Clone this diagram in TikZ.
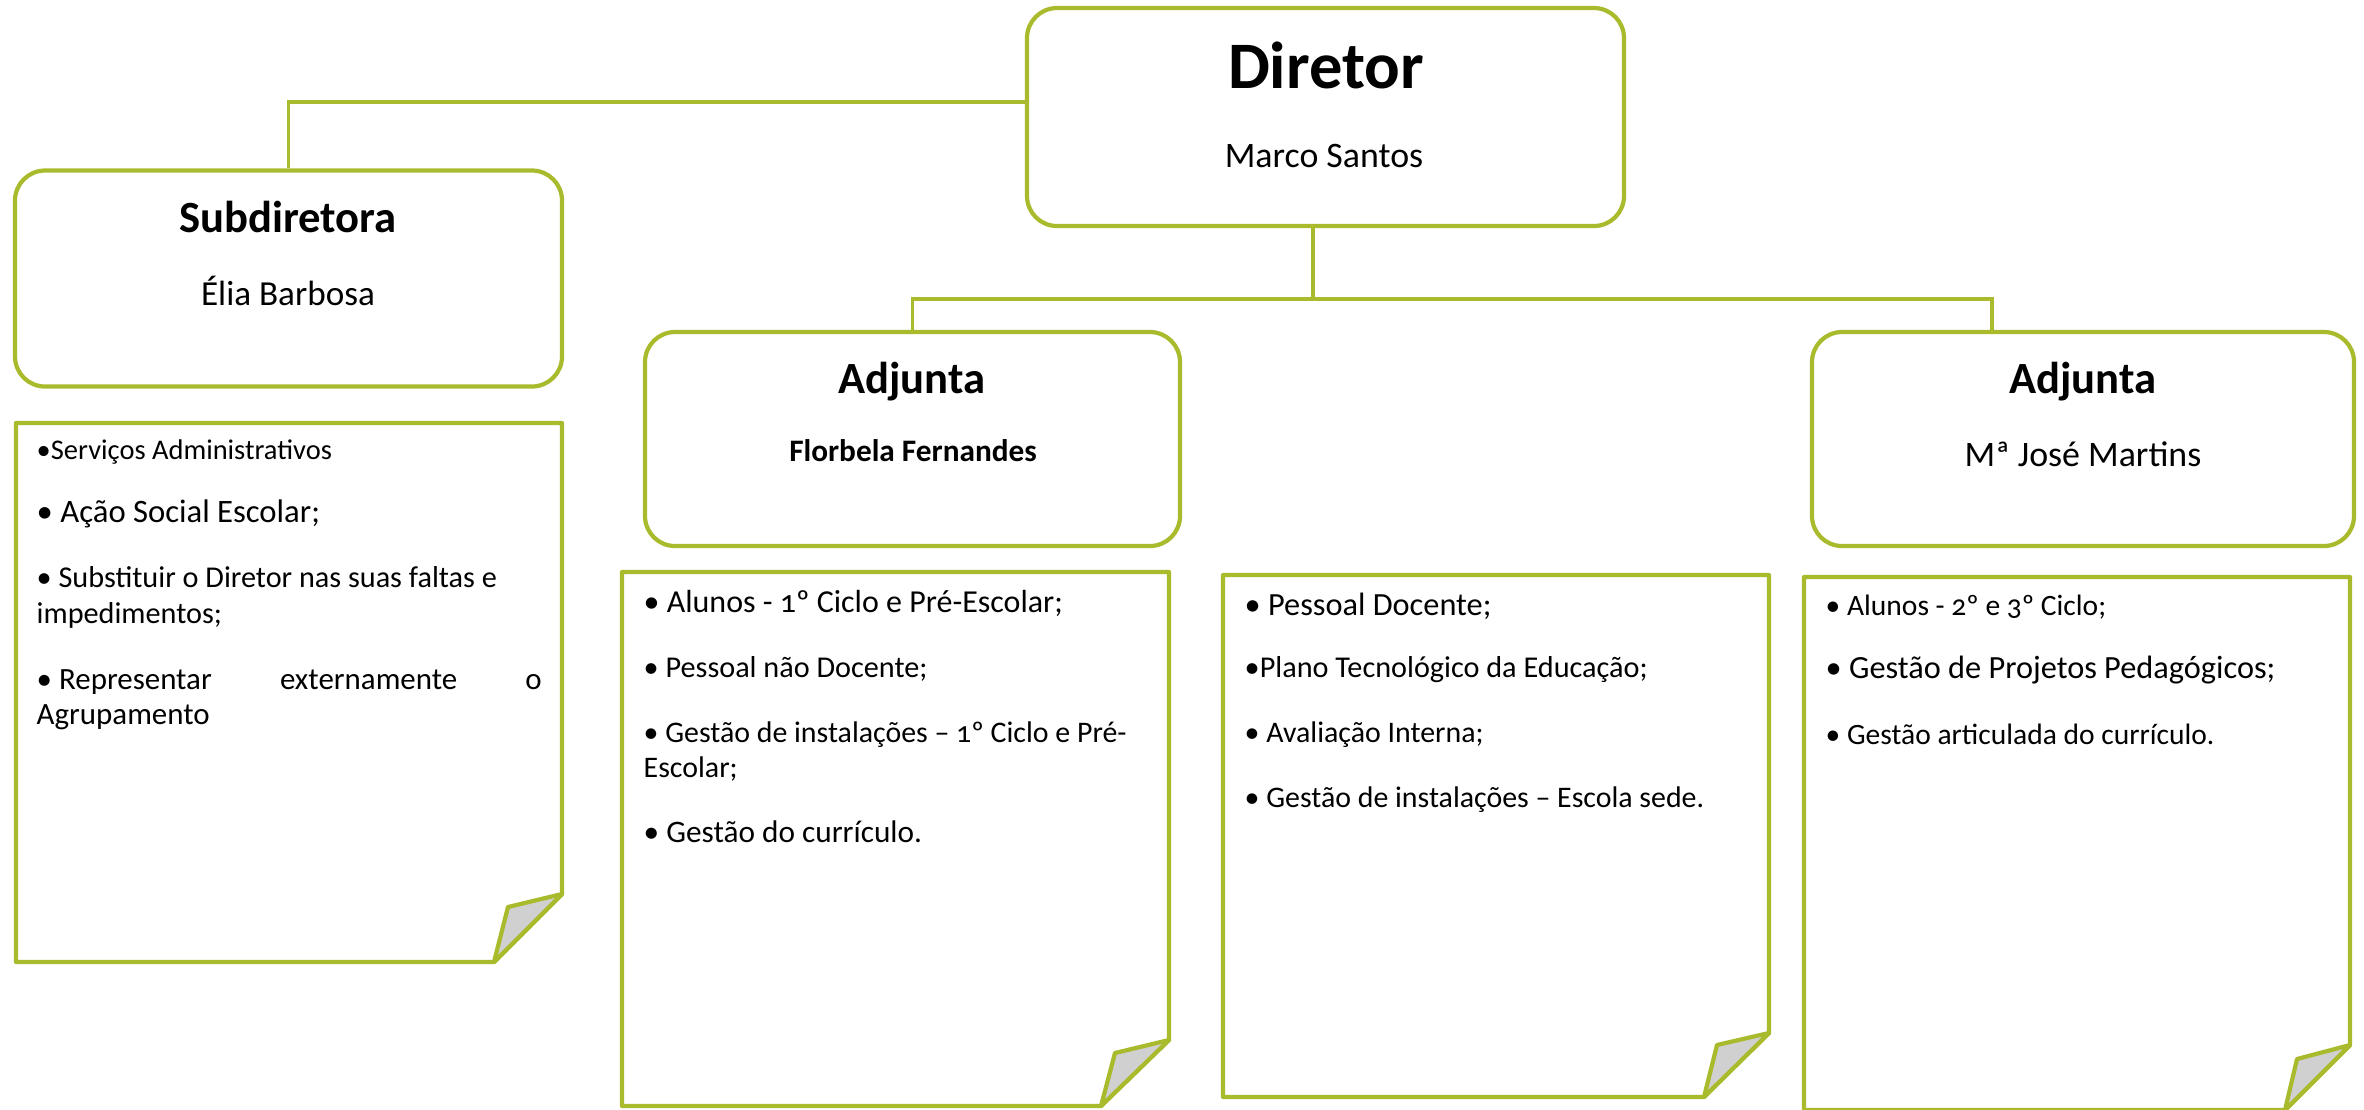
\documentclass[tikz,border=0pt]{standalone}
\usepackage{fontspec}
\setmainfont{Carlito}[Numbers=OldStyle]
\definecolor{leaf}{RGB}{169,187,45}
\definecolor{flapgray}{RGB}{208,208,208}
\tikzset{
  box/.style={draw=leaf, line width=1.2pt, rounded corners=3mm, fill=white},
  link/.style={draw=leaf, line width=1.1pt},
  paper/.style={draw=leaf, line width=1.2pt, line join=round},
  flap/.style={draw=leaf, line width=1.2pt, fill=flapgray, line join=round},
  item/.style={anchor=base west, inner sep=0pt},
  roletitle/.style={anchor=base, inner sep=0pt, font=\bfseries\fontsize{12.7}{15}\selectfont},
  person/.style={anchor=base, inner sep=0pt, font=\fontsize{10.2}{12}\selectfont}
}

\begin{document}
\begin{tikzpicture}[x=0.1mm, y=-0.1mm]
  \useasboundingbox (0,0) rectangle (2364,1109);
  % boxes
  \node[box, minimum width=59.7mm, minimum height=21.8mm] (dir) at (1325.5,117) {};
  \node[box, minimum width=54.7mm, minimum height=21.6mm] (sub) at (288.5,278.5) {};
  \node[box, minimum width=53.5mm, minimum height=21.4mm] (adj1) at (912.5,439) {};
  \node[box, minimum width=54.2mm, minimum height=21.4mm] (adj2) at (2083,439) {};
  \node[roletitle, font=\bfseries\fontsize{18.9}{22}\selectfont] (dirT) at (1326,88) {Diretor};
  \node[person] (dirN) at (1324,167) {Marco Santos};
  \node[roletitle] (subT) at (288,232) {Subdiretora};
  \node[person, font=\fontsize{10}{12}\selectfont] (subN) at (288,305) {Élia Barbosa};
  \node[roletitle] (adj1T) at (912,393) {Adjunta};
  \node[person, font=\bfseries\fontsize{8.9}{10}\selectfont] (adj1N) at (913,461) {Florbela Fernandes};
  \node[roletitle] (adj2T) at (2083,393) {Adjunta};
  \node[person] (adj2N) at (2083,466) {Mª José Martins};
  % connectors
  \coordinate (busL) at (914,299);
  \coordinate (busR) at (1992,299);
  \draw[link] ([yshift=1.5mm]dir.west) -| (sub.north);
  \draw[link] ([xshift=-1.25mm]dir.south) -- ([xshift=-1.25mm]dir.south |- busL);
  \draw[link] (adj1.north) -- (adj1.north |- busL) -- (busR) -- (busR |- adj2.north);
  % notes
  \draw[paper] (16,423) -- (562,423) -- (562,894) -- (494,962) -- (16,962) -- cycle;
  \draw[flap] (562,894) -- (508,907) -- (494,962) -- cycle;
  \draw[paper] (622,572) -- (1169,572) -- (1169,1040) -- (1101,1106) -- (622,1106) -- cycle;
  \draw[flap] (1169,1040) -- (1115,1053) -- (1101,1106) -- cycle;
  \draw[paper] (1223,575) -- (1769,575) -- (1769,1033) -- (1704,1097) -- (1223,1097) -- cycle;
  \draw[flap] (1769,1033) -- (1717,1045) -- (1704,1097) -- cycle;
  \draw[paper] (1804,577) -- (2350,577) -- (2350,1045) -- (2285,1110) -- (1804,1110) -- cycle;
  \draw[flap] (2350,1045) -- (2297,1059) -- (2285,1110) -- cycle;
  % note texts
  \node[item, font=\fontsize{8.1}{10}\selectfont] (s1) at (36,459) {•Serviços Administrativos};
  \node[item, font=\fontsize{9.3}{12}\selectfont] (s2) at (36,522) {• Ação Social Escolar;};
  \node[item, font=\fontsize{8.6}{10.5}\selectfont] (s3) at (36,587)
    {\parbox[t]{50.5mm}{\raggedright • Substituir o Diretor nas suas faltas e\\impedimentos;}};
  \node[item, font=\fontsize{8.8}{10}\selectfont] (s4) at (36,689)
    {\parbox[t]{50.5mm}{• Representar\hfill externamente\hfill o\\Agrupamento}};
  \node[item, font=\fontsize{9.1}{12}\selectfont] (a1) at (643,612) {• Alunos - 1º Ciclo e Pré-Escolar;};
  \node[item, font=\fontsize{8.6}{12}\selectfont] (a2) at (643,677) {• Pessoal não Docente;};
  \node[item, font=\fontsize{8.5}{10}\selectfont] (a3) at (643,742)
    {\parbox[t]{52mm}{\mbox{• Gestão de instalações – 1º Ciclo e Pré-}\\Escolar;}};
  \node[item, font=\fontsize{8.9}{12}\selectfont] (a4) at (643,842) {• Gestão do currículo.};
  \node[item, font=\fontsize{9.2}{12}\selectfont] (d1) at (1244,615) {• Pessoal Docente;};
  \node[item, font=\fontsize{8.6}{10}\selectfont] (d2) at (1244,677) {•Plano Tecnológico da Educação;};
  \node[item, font=\fontsize{8.5}{12}\selectfont] (d3) at (1244,742) {• Avaliação Interna;};
  \node[item, font=\fontsize{8.5}{10}\selectfont] (d4) at (1244,807) {• Gestão de instalações – Escola sede.};
  \node[item, font=\fontsize{8.4}{12}\selectfont] (m1) at (1825,615) {• Alunos - 2º e 3º Ciclo;};
  \node[item, font=\fontsize{9.2}{12}\selectfont] (m2) at (1825,678) {• Gestão de Projetos Pedagógicos;};
  \node[item, font=\fontsize{8.4}{10}\selectfont] (m3) at (1825,744) {• Gestão articulada do currículo.};
\end{tikzpicture}
\end{document}
